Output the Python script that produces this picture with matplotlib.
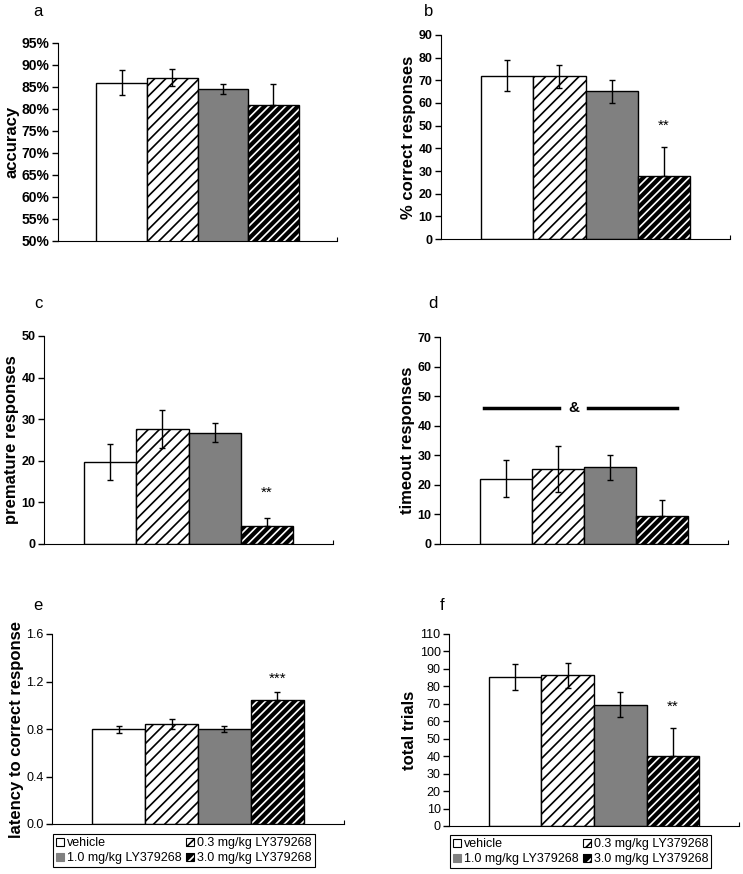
import matplotlib
matplotlib.use('Agg')
import matplotlib.pyplot as plt
from matplotlib.patches import Patch
from matplotlib.legend_handler import HandlerTuple

plt.rcParams['font.family'] = ['Liberation Sans', 'DejaVu Sans']
plt.rcParams['hatch.linewidth'] = 1.2

groups = ['vehicle', '0.3 mg/kg LY379268', '1.0 mg/kg LY379268', '3.0 mg/kg LY379268']

# values (mean, sem)
acc = [86.0, 87.1, 84.6, 80.9]
acc_err = [2.8, 1.95, 1.15, 4.8]
correct = [72.0, 71.7, 65.2, 27.8]
correct_err = [6.8, 5.0, 5.0, 12.8]
premature = [19.7, 27.7, 26.8, 4.4]
premature_err = [4.35, 4.55, 2.4, 1.85]
timeout = [22.1, 25.4, 25.9, 9.4]
timeout_err = [6.35, 7.9, 4.2, 5.6]
latency = [0.796, 0.843, 0.799, 1.045]
latency_err = [0.027, 0.045, 0.026, 0.07]
trials = [85.3, 86.3, 69.6, 40.2]
trials_err = [7.45, 7.2, 6.9, 16.0]

W, H = 743, 874
fig = plt.figure(figsize=(W / 100, H / 100), dpi=100)


def add_ax(l, r, t, b):
    return fig.add_axes([l / W, 1 - b / H, (r - l) / W, (b - t) / H])


def bars(ax, vals, errs):
    ax.bar(0, vals[0], 1, color='white', edgecolor='black', lw=1)
    ax.bar(1, vals[1], 1, color='white', edgecolor='black', hatch='///', lw=1)
    ax.bar(2, vals[2], 1, color='#808080', edgecolor='black', lw=1)
    ax.bar(3, vals[3], 1, color='black', edgecolor='white', hatch='////', lw=0)
    ax.bar(3, vals[3], 1, fill=False, edgecolor='black', lw=1)
    ax.errorbar([0, 1, 2], vals[:3], yerr=errs[:3], fmt='none', ecolor='black',
                elinewidth=1, capsize=2.5, capthick=1, zorder=5)
    ax.errorbar([3], [vals[3]], yerr=[[0], [errs[3]]], fmt='none', ecolor='black',
                elinewidth=1, capsize=2.5, capthick=1, zorder=5)
    ax.set_xlim(-1.26, 4.26)
    ax.spines['top'].set_visible(False)
    ax.spines['right'].set_visible(False)
    ax.set_xticks([4.26], [''])
    ax.tick_params(axis='x', direction='in', length=3)
    ax.tick_params(axis='y', length=4, width=1, pad=2)


def yaxis(ax, lo, hi, step, label, fmt, bold, size=9):
    n = int(round((hi - lo) / step))
    ticks = [lo + i * step for i in range(n + 1)]
    ax.set_ylim(lo, hi)
    ax.set_yticks(ticks, [fmt(t) for t in ticks], fontsize=size,
                  fontweight='bold' if bold else 'normal')
    ax.set_ylabel(label, fontsize=12, fontweight='bold', labelpad=2)


def star(ax, x, y, s):
    ax.text(x, y, s, ha='center', va='center', fontsize=11)


# a
ax = add_ax(58, 337, 43, 241)
bars(ax, acc, acc_err)
yaxis(ax, 50, 95, 5, 'accuracy', lambda t: f'{int(t)}%', True, 10)

# b
ax = add_ax(441, 730, 35, 239)
bars(ax, correct, correct_err)
yaxis(ax, 0, 90, 10, '% correct responses', lambda t: f'{int(t)}', True)
star(ax, 3, 50, '**')

# c
ax = add_ax(44, 333, 336, 544)
bars(ax, premature, premature_err)
yaxis(ax, 0, 50, 10, 'premature responses', lambda t: f'{int(t)}', True)
star(ax, 3, 12.4, '**')

# d
ax = add_ax(440, 728, 337, 544)
bars(ax, timeout, timeout_err)
yaxis(ax, 0, 70, 10, 'timeout responses', lambda t: f'{int(t)}', True)
ax.plot([-0.42, 1.02], [45.9, 45.9], color='black', lw=2.5)
ax.plot([1.58, 3.29], [45.9, 45.9], color='black', lw=2.5)
ax.text(1.3, 45.9, '&', ha='center', va='center', fontsize=11, fontweight='bold')

# e
ax_e = add_ax(52, 344, 634, 824)
bars(ax_e, latency, latency_err)
yaxis(ax_e, 0, 1.6, 0.4, 'latency to correct response', lambda t: f'{t:.1f}', False)
star(ax_e, 3, 1.22, '***')

# f
ax_f = add_ax(449, 739, 634, 826)
bars(ax_f, trials, trials_err)
yaxis(ax_f, 0, 110, 10, 'total trials', lambda t: f'{int(t)}', False)
star(ax_f, 3, 68.3, '**')

# legends
h_veh = Patch(facecolor='white', edgecolor='black', lw=0.8)
h_low = Patch(facecolor='white', edgecolor='black', hatch='//', lw=0.8)
h_mid = Patch(facecolor='#808080', edgecolor='#808080', lw=0.8)
h_high = (Patch(facecolor='black', edgecolor='white', hatch='//', lw=0),
          Patch(fill=False, edgecolor='black', lw=0.8))
for ax, off in [(ax_e, 10 / 190), (ax_f, 9 / 192)]:
    leg = ax.legend([h_veh, h_mid, h_low, h_high],
                    [groups[0], groups[2], groups[1], groups[3]],
                    handler_map={tuple: HandlerTuple(ndivide=1)},
                    ncol=2, loc='upper left', bbox_to_anchor=(0.003, -off),
                    fontsize=9, frameon=True, fancybox=False, edgecolor='black',
                    framealpha=1, handlelength=0.65, handleheight=0.65,
                    handletextpad=0.2, columnspacing=0.4, labelspacing=0.25,
                    borderpad=0.25, borderaxespad=0)
    leg.get_frame().set_linewidth(0.8)

# panel letters
for s, x, y in [('a', 38, 12), ('b', 429, 12), ('c', 38, 303), ('d', 433, 303),
                ('e', 38, 605), ('f', 442, 605)]:
    fig.text(x / W, 1 - y / H, s, ha='center', va='center', fontsize=12)

fig.savefig('out.png', dpi=100)
